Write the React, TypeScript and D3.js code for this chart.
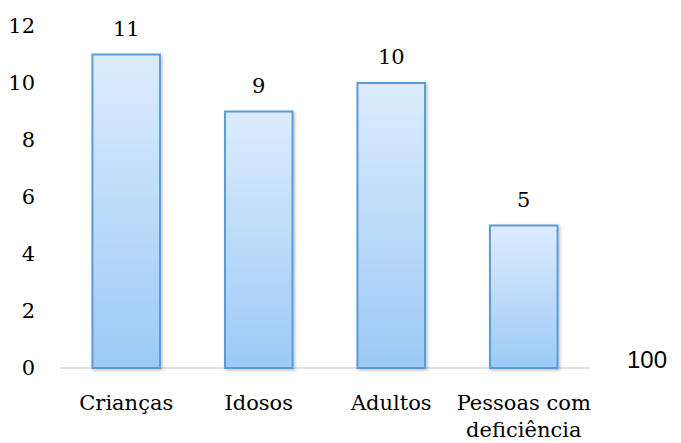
import React from "react";
import * as d3 from "d3";

const categories: string[][] = [["Crianças"], ["Idosos"], ["Adultos"], ["Pessoas com", "deficiência"]];
const values: number[] = [11, 9, 10, 5];
const yTicks: number[] = [0, 2, 4, 6, 8, 10, 12];
const strayLabel = "100";

const W = 681;
const H = 443;
const margin = { left: 60, right: 91, top: 26, bottom: 75 };

const serifStyle: React.CSSProperties = {
  fontFamily: "'DejaVu Serif', 'Liberation Serif', serif",
  fontSize: "21px",
};

export default function App() {
  const x = d3
    .scaleBand<number>()
    .domain(values.map((_, i) => i))
    .range([margin.left, W - margin.right])
    .paddingInner(0.49)
    .paddingOuter(0.245);
  const y = d3.scaleLinear().domain([0, 12]).range([H - margin.bottom, margin.top]);

  return (
    <svg
      width={W}
      height={H}
      style={{ position: "absolute", left: 0, top: 0, background: "#fff" }}
    >
      <defs>
        <linearGradient id="barFill" x1="0" y1="0" x2="0" y2="1">
          <stop offset="0%" stopColor="#dcecfe" />
          <stop offset="100%" stopColor="#9ccaf6" />
        </linearGradient>
        <filter id="barShadow" x="-20%" y="-20%" width="140%" height="140%">
          <feDropShadow dx="1.5" dy="1.5" stdDeviation="1.5" floodColor="#000" floodOpacity="0.25" />
        </filter>
      </defs>

      {/* y tick labels */}
      {yTicks.map((t) => (
        <text key={t} x={35} y={y(t)} dy="0.35em" textAnchor="end" style={serifStyle} fill="#000">
          {t}
        </text>
      ))}

      {/* baseline */}
      <line
        x1={margin.left}
        x2={W - margin.right}
        y1={y(0)}
        y2={y(0)}
        stroke="#d9d9d9"
        strokeWidth={1.5}
      />

      {/* bars */}
      {values.map((v, i) => (
        <rect
          key={i}
          x={x(i)!}
          y={y(v)}
          width={x.bandwidth()}
          height={y(0) - y(v)}
          fill="url(#barFill)"
          stroke="#5b9bd5"
          strokeWidth={2}
          filter="url(#barShadow)"
        />
      ))}

      {/* value labels */}
      {values.map((v, i) => (
        <text
          key={i}
          x={x(i)! + x.bandwidth() / 2}
          y={y(v) - 19}
          textAnchor="middle"
          style={serifStyle}
          fill="#000"
        >
          {v}
        </text>
      ))}

      {/* category labels */}
      {categories.map((lines, i) => (
        <text
          key={i}
          x={x(i)! + x.bandwidth() / 2}
          y={410}
          textAnchor="middle"
          style={serifStyle}
          fill="#000"
        >
          {lines.map((l, j) => (
            <tspan key={j} x={x(i)! + x.bandwidth() / 2} dy={j === 0 ? 0 : 27}>
              {l}
            </tspan>
          ))}
        </text>
      ))}

      <text
        x={627}
        y={368}
        style={{ fontFamily: "'Liberation Sans', Arial, sans-serif", fontSize: "24px" }}
        fill="#000"
      >
        {strayLabel}
      </text>
    </svg>
  );
}
